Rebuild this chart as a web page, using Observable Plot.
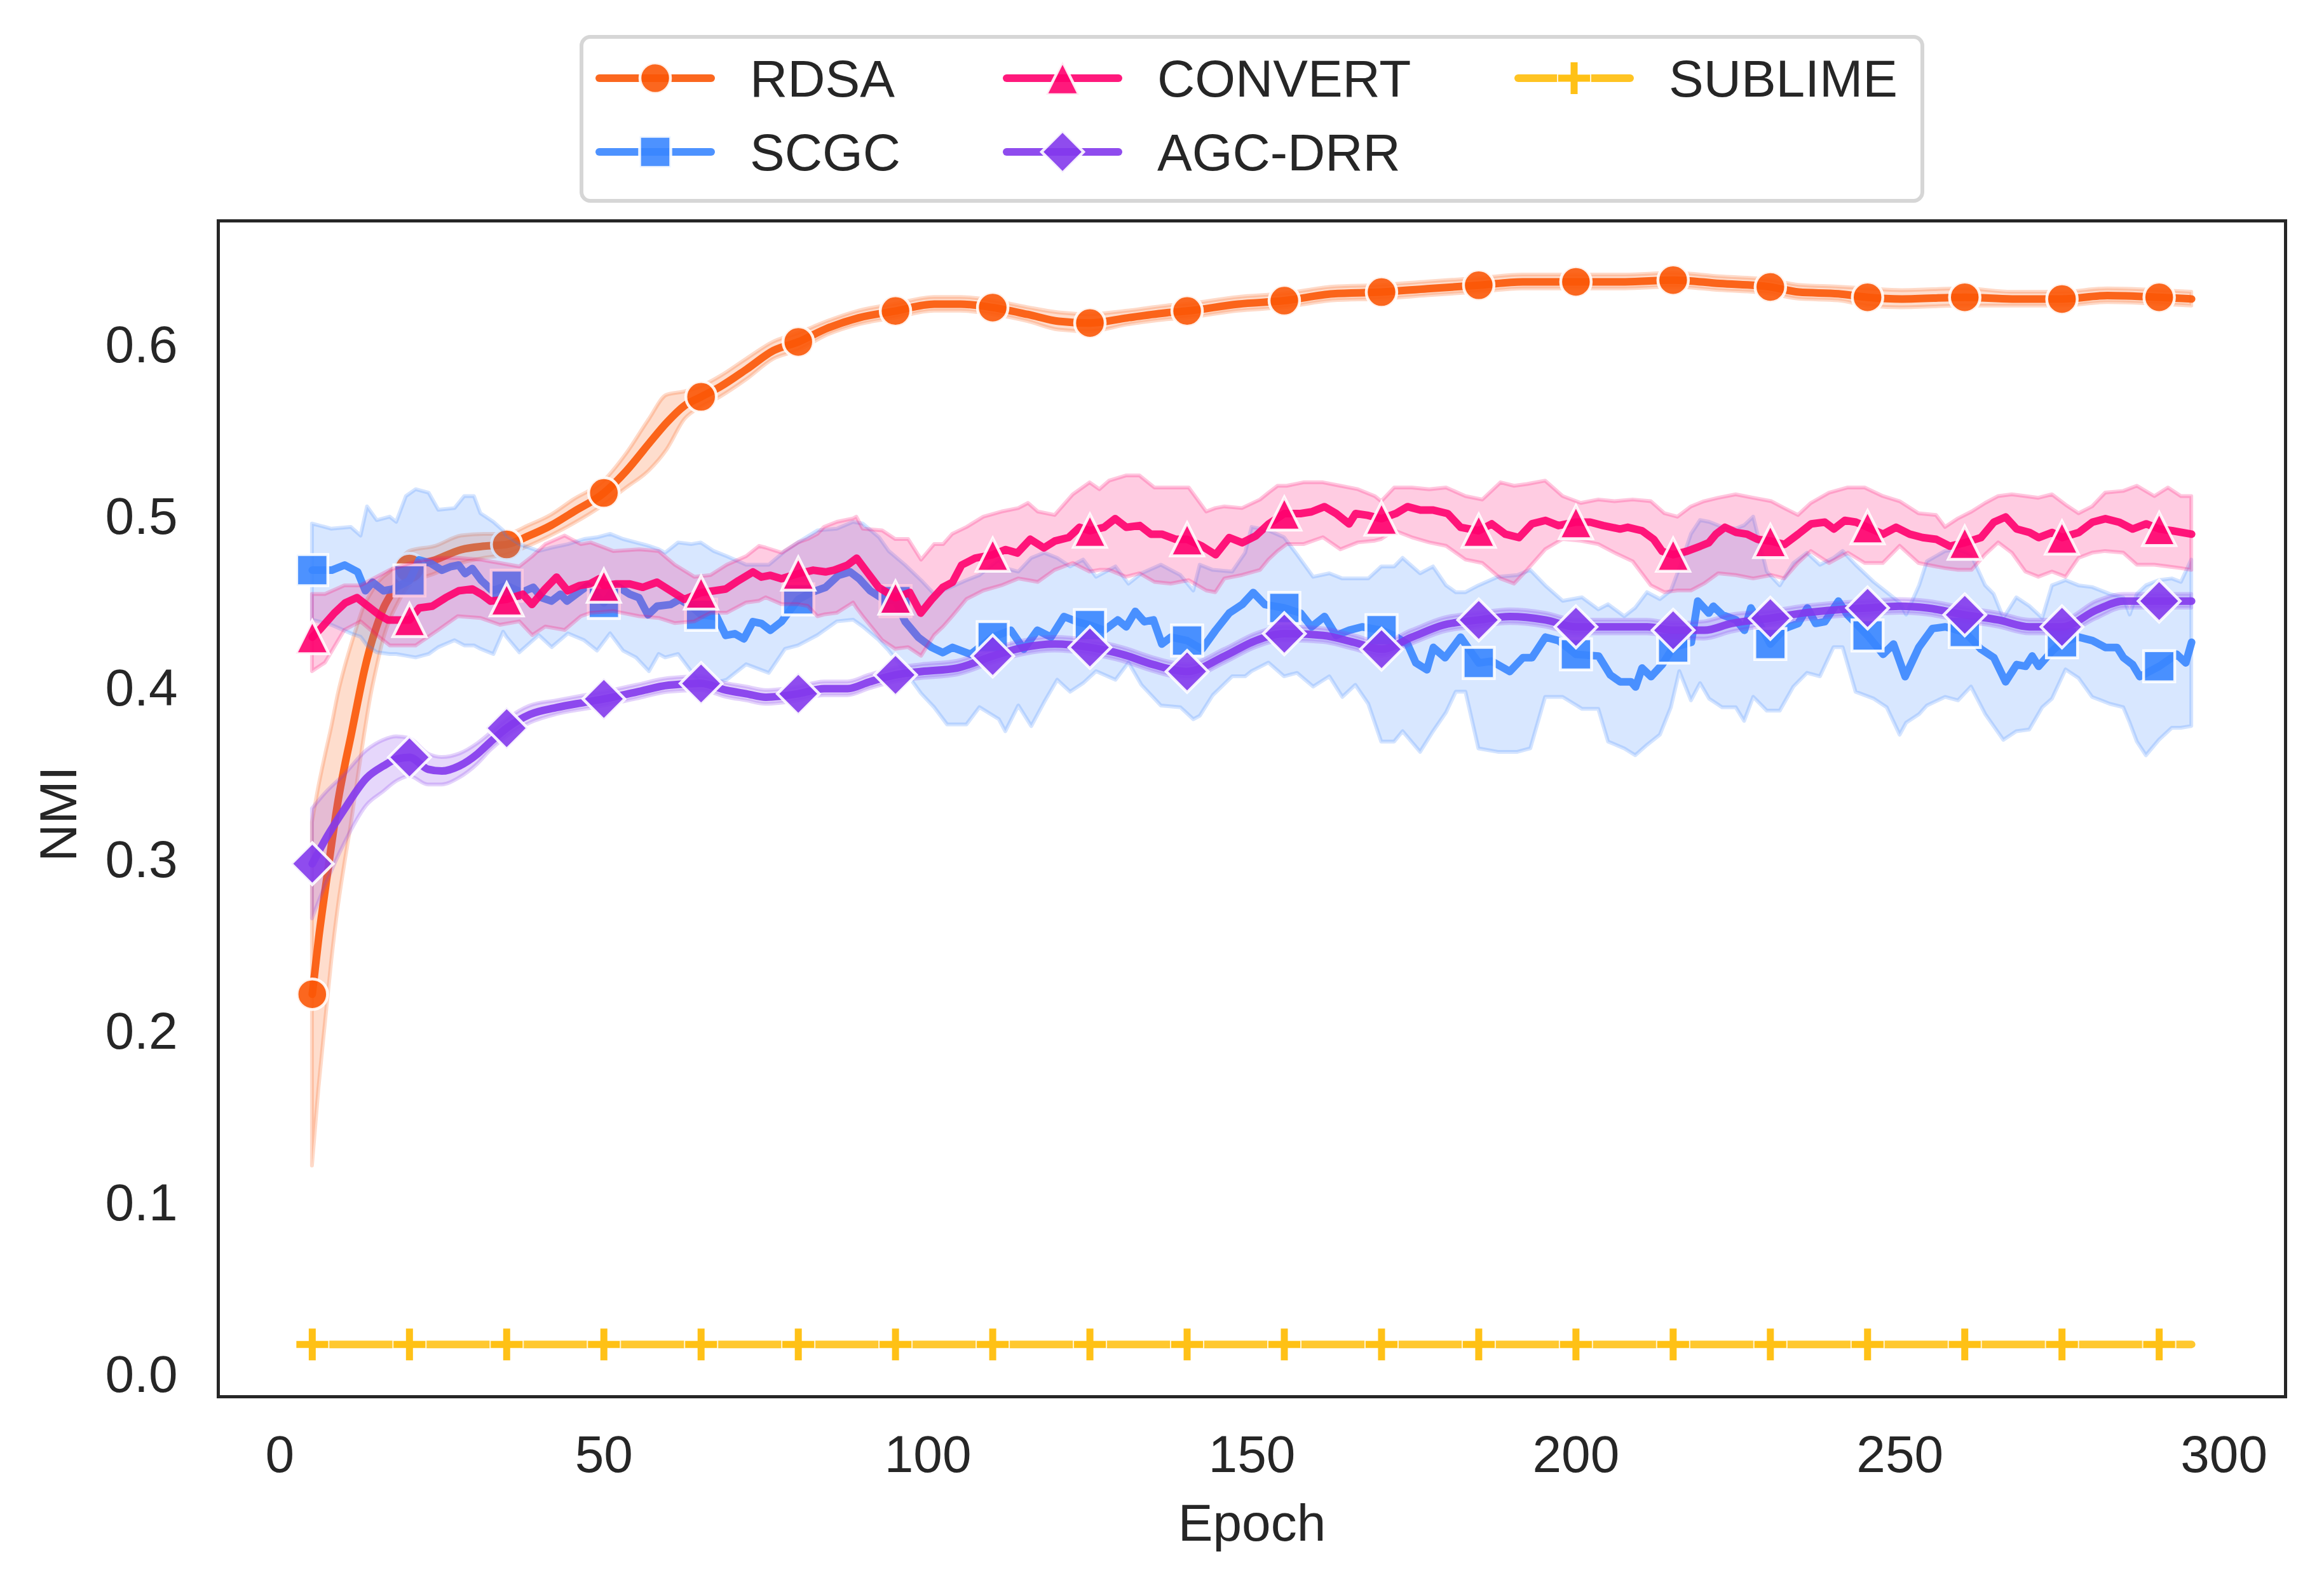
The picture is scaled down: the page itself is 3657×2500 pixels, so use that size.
<!DOCTYPE html>
<html><head><meta charset="utf-8">
<script src="https://cdn.jsdelivr.net/npm/d3@7"></script>
<script src="https://cdn.jsdelivr.net/npm/@observablehq/plot@0.6"></script>
<style>
html,body{margin:0;padding:0;background:#fff;}
#wrap{position:relative;width:3657px;height:2500px;overflow:hidden;}
#legend{position:absolute;left:0;top:0;}
</style></head><body><div id="wrap"></div>
<script>
const seriesNames = ["RDSA","SCGC","CONVERT","AGC-DRR","SUBLIME"];
const seriesColors = ["#fb5607","#3a86ff","#ff006e","#8338ec","#ffbe0b"];
const xTicks = [0,50,100,150,200,250,300];
const yTicks = [0,0.1,0.2,0.3,0.4,0.5,0.6];
const markerEpochs = [5,20,35,50,65,80,95,110,125,140,155,170,185,200,215,230,245,260,275,290];

// [epoch, mean, lower, upper]
const rdsaData = [[5,.222,.122,.322],[6,.255,.167,.343],[7,.283,.205,.361],[8,.310,.242,.378],[9,.335,.273,.397],[10,.355,.298,.412],[11,.373,.321,.425],[12,.392,.347,.437],[13,.410,.372,.448],[14,.425,.395,.455],[15,.437,.413,.461],[16,.447,.429,.465],[17,.454,.440,.468],[18,.460,.448,.472],[20,.470,.460,.480],[24,.475,.467,.483],[28,.481,.473,.489],[31.5,.483,.476,.490],[35,.484,.478,.490],[38.4,.489,.483,.495],[41.8,.495,.489,.501],[45.3,.503,.496,.510],[50,.514,.507,.521],[53.5,.527,.517,.537],[57,.543,.527,.557],[59.7,.555,.539,.571],[62.5,.565,.557,.573],[65,.570,.564,.576],[68,.576,.570,.582],[72,.586,.580,.592],[76.2,.597,.592,.602],[80,.602,.597,.607],[84.5,.610,.606,.614],[89.3,.616,.612,.620],[95,.620,.616,.624],[101,.624,.620,.628],[105,.624,.620,.628],[110,.622,.618,.626],[115.4,.618,.614,.622],[120.2,.614,.609,.619],[125,.613,.608,.618],[130.8,.616,.612,.620],[136.9,.619,.615,.623],[140,.620,.616,.624],[147.9,.624,.620,.628],[155,.626,.622,.630],[162.5,.630,.626,.634],[170,.631,.627,.635],[177.1,.633,.629,.637],[185,.635,.631,.639],[191.8,.637,.633,.641],[200,.637,.633,.641],[207.6,.637,.633,.641],[215,.638,.634,.642],[222.2,.636,.632,.640],[230,.634,.630,.638],[234.4,.631,.627,.635],[240.5,.630,.626,.634],[245,.628,.623,.633],[250.3,.627,.622,.632],[260,.628,.623,.633],[267.3,.627,.623,.631],[275,.627,.623,.631],[282,.629,.625,.633],[290,.628,.624,.632],[295,.627,.623,.631]];

const agcData = [[5,.298,.266,.330],[7,.312,.285,.339],[10,.330,.310,.350],[13.4,.348,.332,.364],[16,.355,.340,.370],[18,.359,.346,.372],[20,.360,.349,.371],[22.9,.353,.344,.362],[25,.352,.344,.360],[27.7,.355,.348,.362],[30.5,.362,.356,.368],[32.5,.369,.364,.374],[35,.377,.372,.382],[38.6,.385,.380,.390],[42.7,.389,.385,.393],[47,.392,.388,.396],[50,.394,.390,.398],[55,.398,.394,.402],[60,.402,.398,.406],[65,.403,.399,.407],[69,.399,.395,.403],[72,.397,.393,.401],[75,.395,.391,.399],[80,.397,.393,.401],[84,.400,.396,.404],[87.6,.400,.396,.404],[91,.404,.400,.408],[95,.408,.404,.412],[99,.410,.406,.414],[104.5,.412,.408,.416],[110,.419,.415,.423],[114.8,.424,.420,.428],[119.6,.426,.422,.430],[125,.424,.420,.428],[130,.420,.416,.424],[134.8,.414,.410,.418],[140,.410,.406,.414],[145.8,.419,.415,.423],[150.6,.428,.424,.432],[155,.432,.428,.436],[161,.431,.427,.435],[165.7,.427,.423,.431],[170,.423,.419,.427],[174.7,.430,.426,.434],[179.5,.437,.433,.441],[185,.440,.436,.444],[189.8,.442,.438,.446],[195.3,.440,.436,.444],[200,.436,.432,.440],[206,.436,.432,.440],[211,.436,.432,.440],[215,.434,.430,.438],[219.8,.434,.429,.439],[224,.438,.433,.443],[230,.441,.437,.445],[235,.444,.440,.448],[240.5,.446,.442,.450],[245,.447,.443,.451],[250,.448,.444,.452],[254.2,.447,.443,.451],[260,.443,.439,.447],[265.2,.440,.436,.444],[270,.436,.432,.440],[275,.436,.432,.440],[280.4,.446,.441,.451],[284.5,.451,.447,.455],[290,.451,.447,.455],[295,.451,.447,.455]];

// [epoch, mean]
const scgcLine = [[5,.469],[8,.469],[10,.472],[12,.468],[13.2,.457],[14.3,.462],[16,.457],[17.4,.458],[20,.463],[21.5,.475],[23.3,.473],[25,.469],[26.3,.471],[27.6,.472],[28.6,.467],[29.7,.470],[31.1,.463],[32.8,.457],[35,.460],[37.3,.456],[39.1,.459],[40.4,.453],[41.9,.451],[43.3,.455],[44.3,.451],[45.7,.455],[47.5,.460],[50,.450],[51.9,.460],[54,.455],[55.4,.453],[56.8,.443],[58.2,.448],[60.3,.449],[61.7,.452],[63.5,.448],[65,.443],[67.4,.442],[68.8,.431],[70.2,.432],[71.6,.429],[73,.439],[74.3,.438],[75.7,.434],[77.4,.439],[80,.452],[82,.456],[84.2,.459],[86.2,.466],[88,.468],[89.4,.464],[91.1,.457],[93.2,.452],[95,.451],[96.5,.439],[98.5,.430],[100.6,.424],[102.3,.421],[103.8,.424],[106.6,.420],[110,.430],[112.8,.434],[114.8,.423],[116.9,.434],[119,.430],[121,.442],[123,.439],[125,.437],[127.2,.434],[129.3,.440],[130.6,.436],[132,.445],[133.4,.439],[134.8,.440],[136.1,.426],[137.5,.430],[140,.428],[142.3,.423],[144.4,.434],[146.5,.444],[148.5,.449],[150.2,.456],[152,.449],[155,.447],[157.5,.444],[159.2,.436],[161.2,.442],[163,.431],[165,.434],[167,.436],[170,.434],[171.9,.431],[174,.426],[175.3,.415],[177,.411],[178,.424],[179.8,.418],[182.2,.430],[185,.415],[187,.416],[189.8,.410],[191.8,.418],[193.2,.418],[195.3,.430],[197.3,.428],[200,.420],[203.5,.419],[205.3,.408],[206.8,.404],[208.5,.404],[209.2,.401],[210.2,.412],[211.6,.407],[213.3,.414],[215,.424],[217.8,.427],[218.8,.451],[220.5,.444],[221.2,.448],[222.6,.443],[224.7,.440],[226,.434],[227,.447],[230,.426],[232.2,.435],[234.3,.438],[235.7,.447],[237,.438],[238.4,.439],[240.5,.451],[241.9,.443],[245,.431],[247.4,.420],[249,.426],[250.8,.407],[252.9,.424],[255,.435],[257,.436],[260,.433],[262.5,.423],[264.5,.418],[266.3,.404],[268,.414],[269.4,.413],[270.4,.419],[271.4,.413],[273.5,.422],[275,.427],[277.6,.430],[279.7,.428],[281.7,.424],[283.5,.424],[284.5,.418],[285.9,.414],[287,.407],[290,.413],[292.7,.420],[294.1,.415],[295,.427]];

// [epoch, lower, upper]
const scgcBand = [[5,.440,.496],[8,.437,.493],[11,.432,.494],[12.5,.430,.489],[13.5,.425,.506],[15,.421,.498],[17,.420,.500],[18,.420,.497],[19.5,.419,.512],[21,.418,.516],[23,.420,.514],[24.5,.424,.504],[27,.428,.505],[28.5,.425,.512],[30,.425,.512],[31,.423,.502],[33,.420,.497],[34.5,.433,.492],[35,.430,.489],[37,.421,.484],[40,.431,.480],[42,.424,.482],[44.5,.432,.484],[47,.428,.487],[49,.422,.488],[51,.432,.490],[53,.422,.487],[55,.418,.485],[57,.410,.483],[58.5,.420,.481],[59.5,.418,.479],[61.5,.420,.485],[63.5,.410,.484],[65,.402,.485],[67,.403,.480],[69,.405,.477],[72,.414,.472],[75.5,.409,.472],[78,.423,.480],[80,.425,.485],[83,.431,.492],[86,.439,.493],[88.5,.440,.497],[90,.436,.496],[92.5,.428,.488],[94,.422,.480],[96.5,.410,.472],[99,.397,.463],[101,.389,.455],[103,.379,.458],[106,.379,.463],[108,.389,.466],[111,.382,.475],[112,.375,.470],[114,.390,.468],[116,.378,.476],[118,.392,.479],[120,.405,.476],[122,.398,.471],[124,.403,.475],[126,.410,.465],[129,.405,.471],[131,.415,.461],[133,.402,.467],[136,.390,.472],[139,.389,.466],[141,.382,.457],[142,.384,.472],[144,.396,.469],[147,.407,.468],[149,.407,.479],[150,.410,.494],[152.6,.415,.492],[155,.407,.488],[157,.409,.478],[159.5,.401,.465],[162,.407,.467],[164,.395,.464],[166,.402,.464],[168,.391,.464],[170,.369,.471],[172,.369,.471],[173.3,.375,.476],[176,.363,.467],[178,.375,.471],[180,.386,.460],[181.5,.398,.456],[183,.398,.456],[185,.365,.460],[188,.363,.465],[191,.363,.466],[193,.365,.469],[195.3,.395,.460],[198,.395,.451],[201,.388,.453],[203.5,.388,.446],[205,.369,.449],[207.5,.365,.442],[209.2,.361,.447],[211,.367,.456],[213,.373,.452],[214.7,.389,.457],[216,.410,.470],[217.8,.393,.490],[219.2,.403,.498],[220.6,.394,.497],[222.6,.389,.494],[224.7,.389,.493],[226,.381,.495],[227.4,.395,.500],[229.5,.387,.468],[231.5,.387,.460],[233.6,.401,.473],[235.7,.409,.479],[237.7,.407,.472],[239.8,.424,.476],[241.2,.424,.480],[243.2,.398,.472],[246,.394,.462],[248,.389,.456],[250,.373,.450],[251,.380,.443],[253,.385,.460],[254.2,.390,.474],[257,.395,.480],[259,.393,.481],[261,.401,.478],[263.2,.385,.460],[264.5,.378,.455],[266,.370,.441],[268,.375,.453],[270,.376,.448],[272,.389,.441],[273.5,.394,.460],[275.6,.411,.463],[277.6,.406,.460],[279.7,.395,.459],[282.4,.391,.455],[284.5,.389,.453],[285.5,.380,.443],[286.6,.369,.455],[288,.361,.460],[290,.370,.463],[292,.377,.464],[293.4,.377,.462],[295,.378,.475]];

const convertLine = [[5,.430],[6.3,.435],[8.4,.444],[10.1,.450],[11.9,.453],[13.6,.448],[15.3,.443],[16.7,.440],[18.1,.440],[20,.440],[21.5,.447],[23.5,.448],[25.6,.453],[27.6,.457],[29.7,.458],[31.1,.455],[32.5,.451],[35,.452],[37.5,.455],[38.9,.449],[40.9,.458],[42.7,.465],[44.4,.457],[46.2,.460],[47.8,.461],[49.3,.464],[50,.460],[51.9,.461],[54,.461],[56,.459],[58.2,.462],[60.3,.457],[62.4,.452],[65,.456],[67,.457],[68.8,.458],[70.8,.463],[73,.468],[74.3,.465],[75.7,.466],[77.4,.464],[80,.467],[82.3,.469],[84.2,.468],[85.5,.469],[87.6,.472],[89,.476],[90.8,.467],[92.4,.459],[95,.453],[97.2,.456],[98.9,.444],[100.6,.452],[102.3,.459],[103.8,.462],[105.2,.472],[107.3,.476],[110,.478],[112,.481],[113.8,.479],[115.8,.487],[117.9,.482],[119.6,.486],[121.7,.488],[123.4,.494],[125,.492],[127.2,.494],[128.9,.499],[130.6,.494],[132.7,.495],[134.4,.490],[136.1,.490],[138.2,.487],[140,.487],[142.3,.483],[144.4,.478],[146.5,.488],[148.5,.485],[150.6,.489],[152.6,.496],[155,.502],[157.5,.502],[159.2,.503],[161.2,.506],[163,.502],[165,.496],[166,.502],[167.8,.501],[170,.499],[172.2,.502],[174,.506],[176,.504],[178,.504],[180.2,.502],[182.2,.494],[185,.492],[187,.496],[189.1,.490],[191.2,.488],[193.2,.496],[195.3,.498],[197.3,.495],[200,.497],[202.2,.497],[204.2,.495],[206.8,.493],[208,.494],[210.2,.492],[212,.487],[213.3,.480],[215,.478],[217.1,.480],[219.2,.483],[220.5,.485],[221.6,.490],[223,.494],[224.7,.491],[226.4,.490],[228,.487],[230,.486],[232.2,.484],[234.3,.490],[236.3,.496],[238.4,.497],[239.8,.493],[241.5,.498],[243.2,.497],[245,.494],[247.4,.490],[249.4,.494],[251.5,.490],[253.5,.488],[255.6,.487],[257.7,.483],[260,.485],[262.5,.488],[264.5,.497],[266.3,.500],[268,.493],[270,.491],[271.4,.488],[273.5,.491],[275,.488],[277.6,.491],[279.7,.497],[281.7,.499],[283.8,.497],[285.9,.493],[288,.496],[290,.493],[292,.492],[295,.490]];

const convertBand = [[5,.410,.455],[7,.415,.455],[10,.434,.460],[12.5,.439,.460],[15,.431,.465],[17,.425,.469],[21,.425,.474],[24.5,.434,.476],[27.5,.442,.476],[31,.441,.475],[34,.437,.473],[37,.439,.471],[39,.431,.477],[41,.436,.484],[44,.434,.489],[46.5,.442,.484],[48,.444,.485],[51.5,.445,.480],[55.5,.442,.481],[58.5,.441,.480],[61,.438,.472],[64,.439,.465],[66.5,.444,.466],[69,.444,.472],[72,.450,.477],[74,.451,.483],[75,.453,.482],[77.5,.449,.479],[80,.449,.485],[81.5,.448,.487],[83,.442,.490],[84,.443,.494],[86,.444,.497],[88.5,.450,.499],[89,.447,.500],[90,.442,.493],[93,.428,.492],[95,.423,.487],[97,.424,.487],[99,.419,.475],[101,.431,.484],[102.4,.436,.484],[103.8,.442,.490],[106,.452,.494],[108.6,.457,.500],[111.4,.460,.503],[114,.464,.505],[115.5,.463,.508],[117,.462,.503],[119.6,.469,.501],[122.4,.473,.513],[125,.468,.520],[126.5,.469,.516],[128,.469,.521],[130.6,.465,.524],[132.7,.467,.524],[135,.462,.517],[137.5,.461,.517],[140.3,.463,.517],[143,.457,.503],[144.4,.456,.505],[145.8,.464,.506],[148.5,.466,.505],[151.3,.469,.510],[152.6,.475,.514],[154,.480,.518],[155.4,.484,.518],[158,.484,.520],[161,.488,.520],[163.7,.481,.518],[166.4,.485,.516],[169,.486,.512],[170,.487,.509],[172,.492,.517],[174.7,.488,.517],[177.4,.485,.516],[180,.483,.517],[183,.475,.512],[185.6,.473,.510],[188.4,.464,.520],[190.5,.461,.518],[192.5,.469,.519],[195.3,.481,.521],[198,.487,.512],[200.8,.486,.508],[203.5,.484,.510],[206,.479,.509],[208.8,.474,.510],[211.6,.460,.509],[213.7,.456,.502],[215.7,.457,.500],[217.8,.457,.506],[219.8,.461,.509],[222,.467,.511],[224.7,.466,.513],[227.4,.464,.511],[230.2,.466,.509],[232.2,.464,.505],[234.3,.473,.501],[236.3,.480,.508],[239.1,.473,.514],[242,.479,.517],[244.6,.473,.517],[247.4,.473,.512],[250,.483,.509],[252.9,.473,.502],[255.6,.471,.501],[257,.470,.494],[259,.469,.499],[261.1,.469,.503],[263.2,.478,.508],[265.2,.485,.512],[267.3,.479,.513],[269.4,.468,.512],[271.4,.465,.511],[273.5,.468,.513],[275.6,.465,.507],[277.6,.476,.502],[279.7,.479,.506],[281.7,.480,.514],[284.5,.479,.515],[286.6,.472,.518],[289.3,.472,.512],[291.4,.471,.517],[293.4,.470,.512],[295,.469,.512]];

const sublimeLine = [[5,.018],[20,.018],[35,.018],[50,.018],[65,.018],[80,.018],[95,.018],[110,.018],[125,.018],[140,.018],[155,.018],[170,.018],[185,.018],[200,.018],[215,.018],[230,.018],[245,.018],[260,.018],[275,.018],[290,.018],[295,.018]];

// ---- marker symbols (matplotlib-like) ----
const rad = size => Math.sqrt(size / Math.PI);
const sym = {
  circle: {draw(c, s){const r = rad(s); c.moveTo(r, 0); c.arc(0, 0, r, 0, 2*Math.PI); c.closePath();}},
  square: {draw(c, s){const r = rad(s); c.moveTo(-r,-r); c.lineTo(r,-r); c.lineTo(r,r); c.lineTo(-r,r); c.closePath();}},
  triangle: {draw(c, s){const r = rad(s); c.moveTo(0,-r); c.lineTo(r,r); c.lineTo(-r,r); c.closePath();}},
  diamond: {draw(c, s){const r = rad(s); c.moveTo(0,-r); c.lineTo(r,0); c.lineTo(0,r); c.lineTo(-r,0); c.closePath();}},
  plus: {draw(c, s){const r = rad(s); c.moveTo(-r,0); c.lineTo(r,0); c.moveTo(0,-r); c.lineTo(0,r);}}
};
const symbolOf = {"RDSA": sym.circle, "SCGC": sym.square, "CONVERT": sym.triangle, "AGC-DRR": sym.diamond, "SUBLIME": sym.plus};
const radiusOf = {"RDSA": 24, "SCGC": 24.5, "CONVERT": 26, "AGC-DRR": 33, "SUBLIME": 25};
const colorOf = Object.fromEntries(seriesNames.map((n, i) => [n, seriesColors[i]]));
const curveOf = {"RDSA": "monotone-x", "AGC-DRR": "monotone-x", "SCGC": "linear", "CONVERT": "linear", "SUBLIME": "linear"};
const LW = 12;

const lineRows = arr => arr.map(d => ({epoch: d[0], v: d[1]}));
const bandRows4 = arr => arr.map(d => ({epoch: d[0], lo: d[2], hi: d[3]}));
const bandRows3 = arr => arr.map(d => ({epoch: d[0], lo: d[1], hi: d[2]}));

const series = [
  {name: "RDSA", line: lineRows(rdsaData), band: bandRows4(rdsaData)},
  {name: "SCGC", line: lineRows(scgcLine), band: bandRows3(scgcBand)},
  {name: "CONVERT", line: lineRows(convertLine), band: bandRows3(convertBand)},
  {name: "AGC-DRR", line: lineRows(agcData), band: bandRows4(agcData)}
];

const marks = [];
for (const s of series) {
  const color = colorOf[s.name];
  marks.push(Plot.areaY(s.band, {x: "epoch", y1: "lo", y2: "hi", curve: curveOf[s.name],
    fill: color, fillOpacity: 0.2, stroke: color, strokeOpacity: 0.22, strokeWidth: 6, strokeLinejoin: "round"}));
  marks.push(Plot.line(s.line, {x: "epoch", y: "v", curve: curveOf[s.name], stroke: color,
    strokeWidth: LW, strokeOpacity: 0.9, strokeLinecap: "round", strokeLinejoin: "round"}));
  marks.push(Plot.dot(s.line.filter(d => markerEpochs.includes(d.epoch)), {x: "epoch", y: "v",
    symbol: symbolOf[s.name], r: radiusOf[s.name], fill: color, fillOpacity: 0.9,
    stroke: "white", strokeWidth: 4.5, strokeOpacity: 0.9}));
}
const sub = lineRows(sublimeLine);
const subMarks = sub.filter(d => markerEpochs.includes(d.epoch));
marks.push(Plot.line(sub, {x: "epoch", y: "v", stroke: colorOf["SUBLIME"], strokeWidth: 12, strokeOpacity: 0.85, strokeLinecap: "round"}));
marks.push(Plot.dot(subMarks, {x: "epoch", y: "v", symbol: sym.plus, r: 27,
  fill: "none", stroke: "white", strokeWidth: 20, strokeOpacity: 0.8}));
marks.push(Plot.dot(subMarks, {x: "epoch", y: "v", symbol: sym.plus, r: 25,
  fill: "none", stroke: colorOf["SUBLIME"], strokeWidth: 11, strokeOpacity: 0.95}));

marks.push(Plot.axisX({ticks: xTicks, tickSize: 0, tickPadding: 60, label: null, fontSize: 82}));
marks.push(Plot.axisY({ticks: yTicks, tickSize: 0, tickPadding: 64, tickFormat: d3.format(".1f"), label: null, fontSize: 82}));
marks.push(Plot.text(["NMI"], {frameAnchor: "left", dx: -250, dy: 8, rotate: -90, textAnchor: "middle", lineAnchor: "middle", fontSize: 82, fill: "#262626"}));
marks.push(Plot.text(["Epoch"], {frameAnchor: "bottom", dy: 200, textAnchor: "middle", lineAnchor: "middle", fontSize: 82, fill: "#262626"}));
marks.push(Plot.frame({stroke: "#262626", strokeWidth: 5}));

const chart = Plot.plot({
  width: 3657, height: 2500,
  marginLeft: 343, marginRight: 61, marginTop: 347, marginBottom: 303,
  x: {domain: [-9.5, 309.5]},
  y: {domain: [-0.0125, 0.6725]},
  style: {fontFamily: "'Liberation Sans', Arial, sans-serif", fontSize: "82px", color: "#262626", background: "white", overflow: "visible"},
  marks
});
const wrap = document.getElementById("wrap");
wrap.appendChild(chart);

// ---- legend overlay ----
const legendItems = [
  {name: "RDSA", hx: 943, ty: 123, tx: 1180},
  {name: "SCGC", hx: 943, ty: 239, tx: 1180},
  {name: "CONVERT", hx: 1584, ty: 123, tx: 1821},
  {name: "AGC-DRR", hx: 1584, ty: 239, tx: 1821},
  {name: "SUBLIME", hx: 2389, ty: 123, tx: 2626}
];
const NS = "http://www.w3.org/2000/svg";
const lg = document.createElementNS(NS, "svg");
lg.setAttribute("id", "legend");
lg.setAttribute("width", 3657); lg.setAttribute("height", 360);
lg.setAttribute("font-family", "'Liberation Sans', Arial, sans-serif");
let html = `<rect x="915" y="58" width="2110" height="258" rx="14" ry="14" fill="white" fill-opacity="0.8" stroke="#d6d6d6" stroke-width="6"/>`;
for (const it of legendItems) {
  const color = colorOf[it.name];
  const cx = it.hx + 88;
  const p = d3.path();
  const r = radiusOf[it.name];
  symbolOf[it.name].draw(p, Math.PI * r * r);
  html += `<line x1="${it.hx}" x2="${it.hx + 176}" y1="${it.ty}" y2="${it.ty}" stroke="${color}" stroke-opacity="0.9" stroke-width="${LW}" stroke-linecap="round"/>`;
  if (it.name === "SUBLIME") {
    const p2 = d3.path(); sym.plus.draw(p2, Math.PI * 27 * 27);
    html += `<path transform="translate(${cx},${it.ty})" d="${p2}" fill="none" stroke="white" stroke-width="20" stroke-opacity="0.8"/>`;
    html += `<path transform="translate(${cx},${it.ty})" d="${p}" fill="none" stroke="${color}" stroke-width="11" stroke-opacity="0.95"/>`;
  } else {
    html += `<path transform="translate(${cx},${it.ty})" d="${p}" fill="${color}" fill-opacity="0.9" stroke="white" stroke-opacity="0.9" stroke-width="4.5"/>`;
  }
  html += `<text x="${it.tx}" y="${it.ty + 29}" font-size="82" fill="#262626">${it.name}</text>`;
}
lg.innerHTML = html;
wrap.appendChild(lg);
</script></body></html>
